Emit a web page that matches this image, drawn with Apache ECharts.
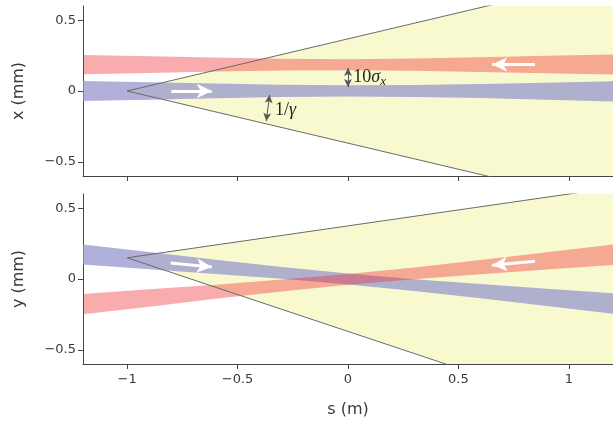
<!DOCTYPE html>
<html>
<head>
<meta charset="utf-8">
<script src="https://cdn.jsdelivr.net/npm/echarts@6/dist/echarts.min.js"></script>
<style>html,body{margin:0;padding:0;background:#fff}#c{width:613px;height:423px}</style>
</head>
<body>
<div id="c"></div>
<script>
// ---- data ----
const sVals   = [-1.2, -0.9, -0.6, -0.3, 0, 0.3, 0.6, 0.9, 1.2];
// top panel (x, mm)
const blueXLo = [-0.070, -0.062, -0.052, -0.043, -0.039, -0.042, -0.050, -0.061, -0.074];
const blueXHi = [ 0.070,  0.062,  0.053,  0.044,  0.040,  0.043,  0.049,  0.059,  0.069];
const redXLo  = [ 0.118,  0.127,  0.137,  0.144,  0.146,  0.143,  0.134,  0.125,  0.117];
const redXHi  = [ 0.255,  0.245,  0.236,  0.228,  0.224,  0.230,  0.238,  0.248,  0.258];
// bottom panel (y, mm)
const blueYLo = [ 0.102,  0.069,  0.036,  0.001, -0.038, -0.085, -0.136, -0.191, -0.245];
const blueYHi = [ 0.244,  0.191,  0.136,  0.085,  0.038, -0.001, -0.036, -0.069, -0.101];
const redYLo  = [-0.248, -0.195, -0.140, -0.088, -0.041, -0.002,  0.034,  0.067,  0.099];
const redYHi  = [-0.106, -0.073, -0.040, -0.004,  0.035,  0.082,  0.134,  0.189,  0.243];
// radiation cones
const coneS   = [-1, 1.2];
const coneXLo = [0, -0.81];
const coneXHi = [0,  0.81];
const coneYLo = [0.15, -0.994];
const coneYHi = [0.15,  0.645];
// ticks
const xTicks = [-1, -0.5, 0, 0.5, 1];
const yTicks = [-0.5, 0, 0.5];

const YELLOW = '#f9f9d0';
const BLUE = 'rgba(150,150,205,0.75)';
const RED  = 'rgba(240,48,52,0.4)';
const EDGE = '#6a6a6a';

function pairs(xs, ys) { return xs.map((x, i) => [x, ys[i]]); }
function band(gi, xs, lo, hi, color) {
  return {
    type: 'custom', xAxisIndex: gi, yAxisIndex: gi, silent: true,
    encode: { x: 0, y: 1 },
    data: xs.map((x, i) => [x, lo[i], hi[i]]),
    renderItem: function (params, api) {
      if (params.dataIndexInside !== 0) return null;
      const n = params.dataInsideLength;
      const top = [], bot = [];
      for (let i = 0; i < n; i++) {
        const x = api.value(0, i);
        top.push(api.coord([x, api.value(2, i)]));
        bot.push(api.coord([x, api.value(1, i)]));
      }
      const cs = params.coordSys;
      return {
        type: 'polygon',
        shape: { points: top.concat(bot.reverse()) },
        style: { fill: color, stroke: null },
        clipPath: { type: 'rect', shape: { x: cs.x, y: cs.y, width: cs.width, height: cs.height } }
      };
    }
  };
}
function edge(gi, xs, ys) {
  return { type: 'line', xAxisIndex: gi, yAxisIndex: gi, data: pairs(xs, ys), symbol: 'none',
    showSymbol: false, silent: true, lineStyle: { color: EDGE, width: 1 } };
}
const fmt = v => (v < 0 ? '\u2212' + Math.abs(v) : String(v));
const labelFont = { fontFamily: 'DejaVu Sans', fontSize: 13, color: '#3a3a3a' };

function xAxis(gi, showLabels) {
  return {
    type: 'value', gridIndex: gi, min: -1.2, max: 1.2,
    splitLine: { show: false },
    axisLine: { show: true, onZero: false, lineStyle: { color: '#444', width: 1 } },
    axisTick: { show: true, length: 5, customValues: xTicks, lineStyle: { color: '#444' } },
    axisLabel: Object.assign({ show: showLabels, customValues: xTicks, margin: 9, formatter: fmt }, labelFont),
    name: showLabels ? 's (m)' : '', nameLocation: 'middle', nameGap: 38,
    nameTextStyle: { fontFamily: 'DejaVu Sans', fontSize: 16, color: '#3a3a3a' }
  };
}
function yAxis(gi, title) {
  return {
    type: 'value', gridIndex: gi, min: -0.6, max: 0.6,
    splitLine: { show: false },
    axisLine: { show: true, onZero: false, lineStyle: { color: '#444', width: 1 } },
    axisTick: { show: true, length: 5, customValues: yTicks, lineStyle: { color: '#444' } },
    axisLabel: Object.assign({ show: true, customValues: yTicks, margin: 7, formatter: fmt }, labelFont),
    name: title, nameLocation: 'middle', nameGap: 56,
    nameTextStyle: { fontFamily: 'DejaVu Sans', fontSize: 16, color: '#3a3a3a' }
  };
}

const whiteArrow = (a, b) => [
  { coord: a, symbol: 'none' },
  { coord: b, symbol: 'arrow', symbolSize: [11, 15] }
];
const grayArrow = (a, b) => [
  { coord: a, symbol: 'arrow', symbolSize: [6, 8] },
  { coord: b, symbol: 'arrow', symbolSize: [6, 8] }
];
const serif = 'Liberation Serif';
const rich = {
  n: { fontFamily: serif, fontSize: 18, color: '#222', lineHeight: 21 },
  g: { fontFamily: serif, fontSize: 18, fontStyle: 'italic', color: '#222', lineHeight: 21 },
  s: { fontFamily: serif, fontSize: 13, fontStyle: 'italic', color: '#222', lineHeight: 13, verticalAlign: 'bottom' }
};

const series = [
  // top panel
  band(0, coneS, coneXLo, coneXHi, YELLOW),
  edge(0, coneS, coneXLo), edge(0, coneS, coneXHi),
  band(0, sVals, blueXLo, blueXHi, BLUE),
  band(0, sVals, redXLo, redXHi, RED),
  // bottom panel
  band(1, coneS, coneYLo, coneYHi, YELLOW),
  edge(1, coneS, coneYLo), edge(1, coneS, coneYHi),
  band(1, sVals, blueYLo, blueYHi, BLUE),
  band(1, sVals, redYLo, redYHi, RED),
  // annotations
  { type: 'line', xAxisIndex: 0, yAxisIndex: 0, data: [], silent: true,
    markLine: { silent: true, animation: false, label: { show: false },
      lineStyle: { color: '#fff', width: 3, type: 'solid', opacity: 1 },
      emphasis: { disabled: true },
      data: [ whiteArrow([-0.80, 0], [-0.617, 0]), whiteArrow([0.847, 0.187], [0.653, 0.187]) ] } },
  { type: 'line', xAxisIndex: 0, yAxisIndex: 0, data: [], silent: true,
    markLine: { silent: true, animation: false, label: { show: false },
      lineStyle: { color: '#555', width: 1, type: 'solid', opacity: 1 },
      emphasis: { disabled: true },
      data: [ grayArrow([0, 0.162], [0, 0.028]), grayArrow([-0.355, -0.028], [-0.370, -0.212]) ] },
    markPoint: { silent: true, animation: false, symbol: 'rect', symbolSize: 1,
      itemStyle: { color: 'rgba(0,0,0,0)' },
      data: [
        { coord: [0.022, 0.096], label: { show: true, position: 'right', distance: 0, formatter: '{n|10}{g|\u03c3}{s|x}', rich: rich } },
        { coord: [-0.333, -0.136], label: { show: true, position: 'right', distance: 0, formatter: '{n|1/}{g|\u03b3}', rich: rich } }
      ] } },
  { type: 'line', xAxisIndex: 1, yAxisIndex: 1, data: [], silent: true,
    markLine: { silent: true, animation: false, label: { show: false },
      lineStyle: { color: '#fff', width: 3, type: 'solid', opacity: 1 },
      emphasis: { disabled: true },
      data: [ whiteArrow([-0.803, 0.113], [-0.617, 0.085]), whiteArrow([0.847, 0.125], [0.653, 0.097]) ] } }
];

const chart = echarts.init(document.getElementById('c'), null, { renderer: 'canvas' });
chart.setOption({
  animation: false,
  backgroundColor: '#fff',
  grid: [
    { left: 83, top: 6, width: 533, height: 170 },
    { left: 83, top: 194, width: 533, height: 170 }
  ],
  xAxis: [xAxis(0, false), xAxis(1, true)],
  yAxis: [yAxis(0, 'x (mm)'), yAxis(1, 'y (mm)')],
  series: series
});
</script>
</body>
</html>
